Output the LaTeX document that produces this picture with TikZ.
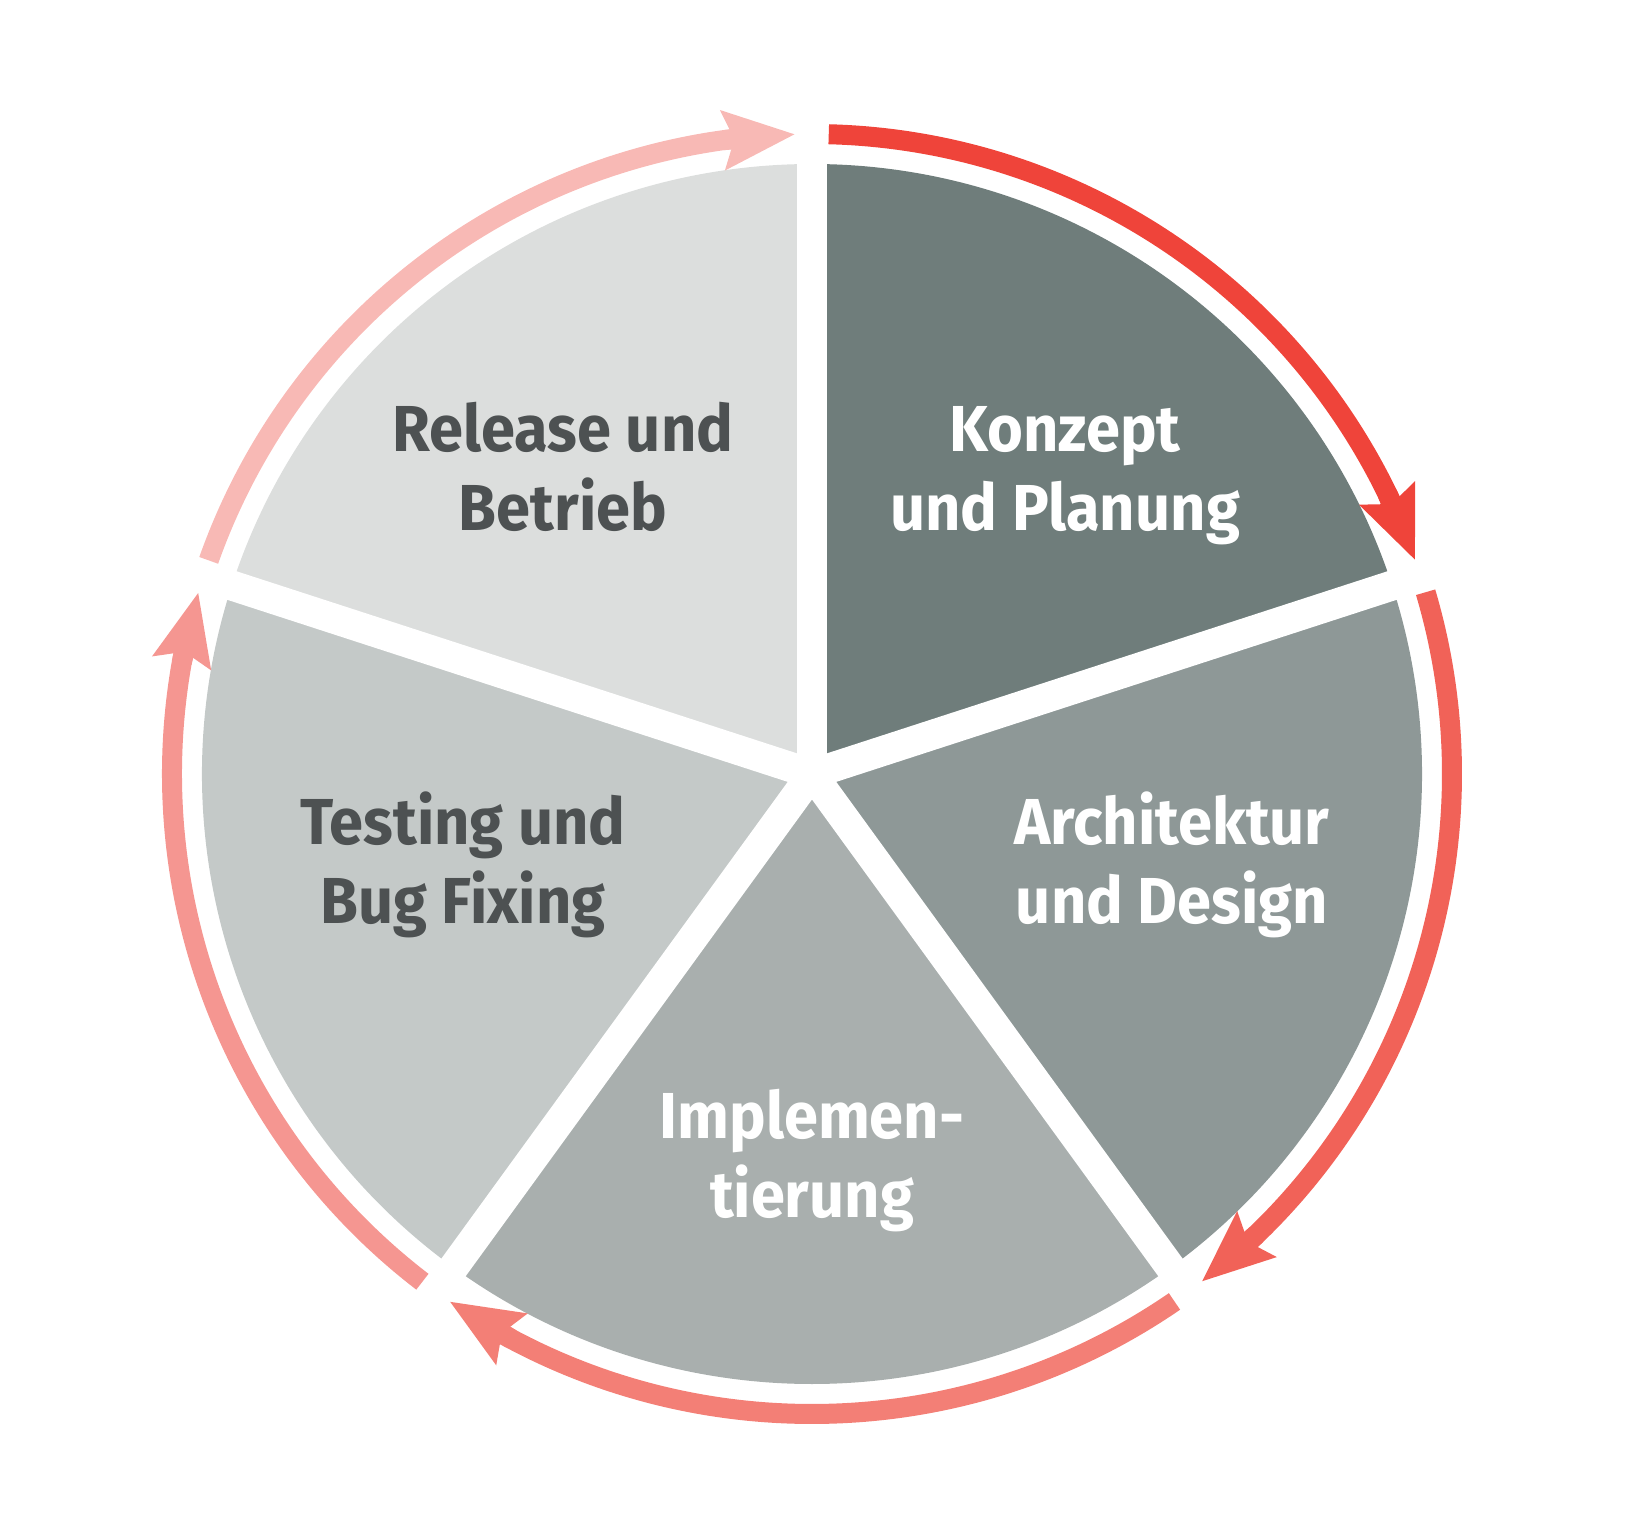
\documentclass[tikz,border=0pt]{standalone}
\usepackage{fontspec}
\setmainfont{Fira Sans}[FakeStretch=0.945]
\usetikzlibrary{arrows.meta}

\definecolor{konzeptgray}{RGB}{111,125,123}
\definecolor{archgray}{RGB}{142,152,151}
\definecolor{implgray}{RGB}{169,175,174}
\definecolor{testgray}{RGB}{196,201,200}
\definecolor{releasegray}{RGB}{220,222,221}
\definecolor{labeldark}{RGB}{77,81,82}
\definecolor{arcred}{RGB}{239,68,58}
\definecolor{arcsalmon}{RGB}{241,98,88}
\definecolor{arccoral}{RGB}{243,127,118}
\definecolor{arcrose}{RGB}{245,150,145}
\definecolor{arcpink}{RGB}{248,185,181}

\tikzset{
  phase/.style={align=center, inner sep=0pt, font=\fontsize{65}{79}\selectfont\bfseries},
  cyclearc/.style={line width=20pt},
  cyclehead/.style={line width=20pt, -{Stealth[length=71pt,width=57pt,inset=10pt]}},
}

\begin{document}
\begin{tikzpicture}[x=1pt,y=1pt]
\useasboundingbox (-812,-758) rectangle (815,774);

% 1. Draw the five sectors round the centre
\fill[konzeptgray] (0,0) -- (90:610) arc (90:18:610) -- cycle;
\fill[archgray] (0,0) -- (18:610) arc (18:-54:610) -- cycle;
\fill[implgray] (0,0) -- (-54:610) arc (-54:-126:610) -- cycle;
\fill[testgray] (0,0) -- (-126:610) arc (-126:-198:610) -- cycle;
\fill[releasegray] (0,0) -- (162:610) arc (162:90:610) -- cycle;

% 2. White gaps between the sectors
\draw[white, line width=30pt] (0,0) -- (90:625);
\draw[white, line width=30pt] (0,0) -- (18:625);
\draw[white, line width=30pt] (0,0) -- (-54:625);
\draw[white, line width=30pt] (0,0) -- (-126:625);
\draw[white, line width=30pt] (0,0) -- (162:625);

% 3. Arrows round the circle (clockwise): shaft as arc, head on a short chord
\draw[cyclearc, arcred] (88.5:640) arc (88.5:25:640);
\draw[cyclehead, arcred] (26:640) -- (19.5:640);
\draw[cyclearc, arcsalmon] (16.5:640) arc (16.5:-47:640);
\draw[cyclehead, arcsalmon] (-46:640) -- (-52.5:640);
\draw[cyclearc, arccoral] (-55.5:640) arc (-55.5:-119:640);
\draw[cyclehead, arccoral] (-118:640) -- (-124.5:640);
\draw[cyclearc, arcrose] (-127.5:640) arc (-127.5:-191:640);
\draw[cyclehead, arcrose] (-190:640) -- (-196.5:640);
\draw[cyclearc, arcpink] (160.5:640) arc (160.5:97:640);
\draw[cyclehead, arcpink] (98:640) -- (91.5:640);

% 4. Label the phases
\node[phase, white] (konzept) at (253,298) {Konzept\\und Planung};
\node[phase, white] (architektur) at (360,-91) {Architektur\\und Design};
\node[phase, white] (implementierung) at (0,-387) {Implemen-\\tierung};
\node[phase, labeldark] (testing) at (-349,-91) {Testing und\\Bug Fixing};
\node[phase, labeldark] (release) at (-249,307) {Release und\\Betrieb};

\end{tikzpicture}
\end{document}
